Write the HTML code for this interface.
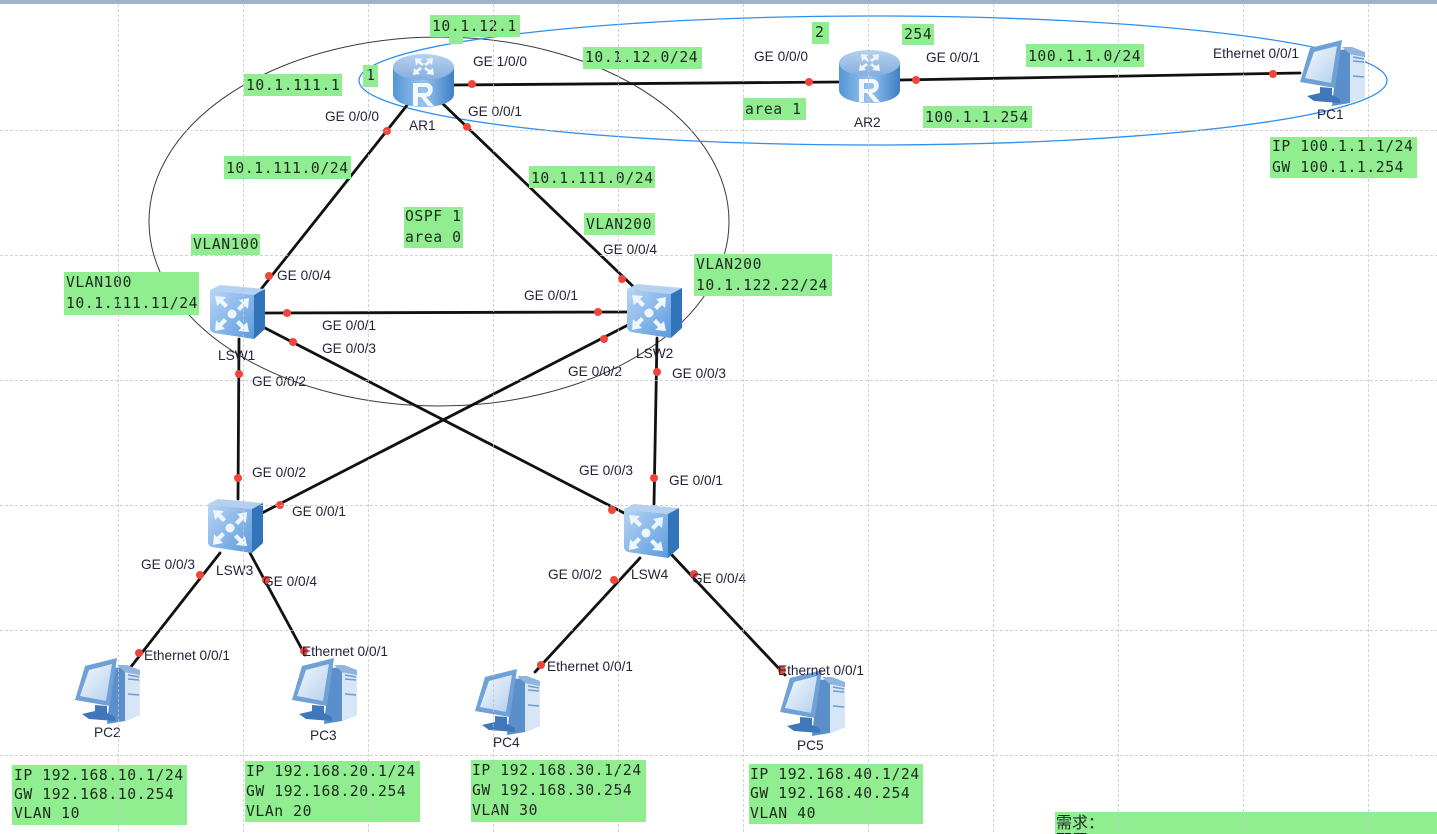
<!DOCTYPE html>
<html><head><meta charset="utf-8">
<style>
html,body{margin:0;padding:0;background:#fff;width:1437px;height:834px;overflow:hidden}
svg{display:block}
.s{font:13.7px "Liberation Sans",sans-serif;fill:#23233a}
.m{font:14.7px "DejaVu Sans Mono","Liberation Mono",monospace;fill:#1c2a1c;letter-spacing:.59px}
.g{fill:#90ee90}
.l{stroke:#111;stroke-width:2.8;fill:none;stroke-linecap:round}
</style></head><body>
<svg width="1437" height="834" viewBox="0 0 1437 834" xmlns="http://www.w3.org/2000/svg">
<defs>
<linearGradient id="rt" x1="0" x2="0" y1="0" y2="1"><stop offset="0" stop-color="#b6d1f0"/><stop offset="1" stop-color="#86aede"/></linearGradient>
<linearGradient id="rb" x1="0" x2="1" y1="0" y2="0"><stop offset="0" stop-color="#5596d6"/><stop offset=".5" stop-color="#96c4ef"/><stop offset="1" stop-color="#3f7fc4"/></linearGradient>
<linearGradient id="sw" x1="0" x2="1" y1="0" y2="1"><stop offset="0" stop-color="#b6d5f5"/><stop offset="1" stop-color="#5c9ade"/></linearGradient>
<linearGradient id="sc" x1="0" x2="1" y1="0" y2="1"><stop offset="0" stop-color="#f4f9fe"/><stop offset="1" stop-color="#b4d0ec"/></linearGradient>
<g id="router">
<path d="M0 13V40C0 48 14 53 30.500 53S61 48 61 40V13Z" fill="url(#rb)"/>
<ellipse cx="30.500" cy="13" rx="30.500" ry="13" fill="url(#rt)"/>
<path d="M22 4l8 1-3 2 4 3-2 2-4-3-2 3zM40 4l-1 7-2-2-4 3-2-2 4-3-2-2zM20 21l1-7 2 2 4-3 2 2-4 3 2 2zM41 21l-8-1 2-2-4-3 2-2 4 3 3-2z" fill="#eef5fd"/>
<path d="M20 52V29h13c9 0 9 13 0 14l8 9h-6l-7-9h-3v9zM25 33v6h7c4 0 4-6 0-6z" fill="#f3f8fe"/>
</g>
<g id="switch">
<path d="M0 5L44 10V54L4 48Q1 47 0 44Z" fill="url(#sw)"/>
<path d="M0 5L10 0L55 4L44 10Z" fill="#b4d1f1"/>
<path d="M44 10L55 4V44L44 54Z" fill="#3274ba"/>
<circle cx="22" cy="29" r="4.500" fill="#eef6fd"/>
<path d="M5 11l11 1-3 3 5 5-3 3-5-5-3 3zM39 13l-1 11-3-3-5 5-3-3 5-5-3-3zM5 46l1-11 3 3 5-5 3 3-5 5 3 3zM39 47l-11-1 3-3-5-5 3-3 5 5 3-3z" fill="#eef6fd"/>
</g>
<g id="pc">
<path d="M38 10L52 9L65 14V57L50 63L32 66Z" fill="#5b8fca"/>
<path d="M50 14L65 17V57L50 63Z" fill="#d6e6f6"/>
<path d="M42 7L52 7L65 12V17L50 14Z" fill="#8fb4de"/>
<path d="M53 17L64 19M53 21L64 22M53 36L64 37" stroke="#6f9bcf" stroke-width="1.500"/>
<path d="M10 8L42 0L35 48L0 42Z" fill="#6fa0d6"/>
<path d="M14 12L37 6L31 43L5 38Z" fill="url(#sc)"/>
<path d="M20 47L32 48V55L40 59V63L14 61L7 56L20 53Z" fill="#3f77ba"/>
</g>
</defs>
<rect width="1437" height="834" fill="#fff"/>
<rect width="1437" height="4" fill="#9db4cb"/>

<ellipse cx="439" cy="221.500" rx="290" ry="184.500" fill="none" stroke="#3a3a3a" stroke-width="1"/>
<ellipse cx="873" cy="80.500" rx="514" ry="64.500" fill="none" stroke="#2f8fee" stroke-width="1.300"/>

<g class="l">
<path d="M454 85L838 82"/><path d="M900 80L1300 73"/>
<path d="M408 104L258 293"/><path d="M443 104L640 293"/>
<path d="M265 313L627 312"/><path d="M265 328L624 513"/><path d="M628 325L262 513"/>
<path d="M239 339L238 499"/><path d="M657 338L654 504"/>
<path d="M220 553L130 668"/><path d="M250 553L305 655"/>
<path d="M640 558L535 672"/><path d="M670 553L785 675"/>
</g>

<use href="#router" x="393" y="54"/><use href="#router" x="839" y="50"/>
<use href="#switch" x="210" y="285"/><use href="#switch" x="627" y="284"/>
<use href="#switch" x="208" y="499"/><use href="#switch" x="624" y="504"/>
<use href="#pc" x="1300" y="40"/><use href="#pc" x="75" y="658"/><use href="#pc" x="292" y="658"/><use href="#pc" x="475" y="669"/><use href="#pc" x="780" y="670"/>

<g fill="#f2453a">
<circle cx="472" cy="84" r="4"/><circle cx="809" cy="82" r="4"/><circle cx="916" cy="80" r="4"/><circle cx="1273" cy="74" r="4"/>
<circle cx="387" cy="131" r="4"/><circle cx="467" cy="127" r="4"/><circle cx="269" cy="276" r="4"/><circle cx="622" cy="279" r="4"/>
<circle cx="287" cy="313" r="4"/><circle cx="598" cy="312" r="4"/><circle cx="293" cy="342" r="4"/><circle cx="604" cy="339" r="4"/>
<circle cx="239" cy="374" r="4"/><circle cx="657" cy="372" r="4"/><circle cx="238" cy="478" r="4"/><circle cx="654" cy="478" r="4"/>
<circle cx="280" cy="505" r="4"/><circle cx="612" cy="510" r="4"/><circle cx="200" cy="575" r="4"/><circle cx="266" cy="580" r="4"/>
<circle cx="139" cy="653" r="4"/><circle cx="304" cy="651" r="4"/><circle cx="541" cy="665" r="4"/><circle cx="614" cy="580" r="4"/>
<circle cx="694" cy="574" r="4"/><circle cx="782" cy="670" r="4"/>
</g>

<g class="g">
<rect x="430" y="15" width="90" height="22"/><rect x="449" y="37" width="14" height="7"/>
<rect x="583" y="47" width="119" height="22"/><rect x="363" y="65" width="15" height="22"/>
<rect x="812" y="22" width="17" height="22"/><rect x="902" y="24" width="32" height="21"/>
<rect x="1026" y="44" width="118" height="23"/><rect x="743" y="98" width="63" height="22"/>
<rect x="923" y="106" width="109" height="22"/><rect x="244" y="74" width="98" height="22"/>
<rect x="224" y="156" width="127" height="23"/><rect x="529" y="166" width="126" height="22"/>
<rect x="404" y="207" width="59" height="41"/><rect x="584" y="213" width="71" height="22"/>
<rect x="191" y="234" width="69" height="21"/><rect x="64" y="272" width="135" height="43"/>
<rect x="694" y="254" width="138" height="42"/><rect x="1270" y="137" width="147" height="41"/>
<rect x="12" y="765" width="175" height="60"/><rect x="245" y="761" width="175" height="61"/>
<rect x="471" y="760" width="175" height="62"/><rect x="749" y="764" width="174" height="60"/>
<rect x="1055" y="812" width="382" height="22"/>
</g>

<g class="m">
<text x="432" y="31">10.1.12.1</text>
<text x="585" y="62">10.1.12.0/24</text>
<text x="366" y="80">1</text>
<text x="815" y="37">2</text>
<text x="904" y="39">254</text>
<text x="1028" y="61">100.1.1.0/24</text>
<text x="745" y="114">area 1</text>
<text x="925" y="122">100.1.1.254</text>
<text x="246" y="90">10.1.111.1</text>
<text x="226" y="173">10.1.111.0/24</text>
<text x="531" y="183">10.1.111.0/24</text>
<text x="405" y="221">OSPF 1</text>
<text x="405" y="242">area 0</text>
<text x="586" y="229">VLAN200</text>
<text x="193" y="249">VLAN100</text>
<text x="66" y="287">VLAN100</text>
<text x="66" y="308">10.1.111.11/24</text>
<text x="696" y="269">VLAN200</text>
<text x="696" y="290">10.1.122.22/24</text>
<text x="1272" y="151">IP 100.1.1.1/24</text>
<text x="1272" y="172">GW 100.1.1.254</text>
<text x="14" y="780">IP 192.168.10.1/24</text>
<text x="14" y="799">GW 192.168.10.254</text>
<text x="14" y="818">VLAN 10</text>
<text x="246" y="776">IP 192.168.20.1/24</text>
<text x="246" y="796">GW 192.168.20.254</text>
<text x="246" y="816">VLAn 20</text>
<text x="472" y="775">IP 192.168.30.1/24</text>
<text x="472" y="795">GW 192.168.30.254</text>
<text x="472" y="815">VLAN 30</text>
<text x="750" y="779">IP 192.168.40.1/24</text>
<text x="750" y="798">GW 192.168.40.254</text>
<text x="750" y="818">VLAN 40</text>
</g>
<text x="1056" y="828" style='font:16px "Noto Sans CJK SC","Liberation Sans",sans-serif;fill:#1c2a1c'>需求：</text>
<text x="1056" y="846" style='font:16px "Noto Sans CJK SC","Liberation Sans",sans-serif;fill:#1c2a1c'>配置</text>

<g class="s">
<text x="473" y="66">GE 1/0/0</text><text x="468" y="116">GE 0/0/1</text><text x="325" y="121">GE 0/0/0</text><text x="409" y="130">AR1</text>
<text x="754" y="61">GE 0/0/0</text><text x="926" y="62">GE 0/0/1</text><text x="1213" y="58">Ethernet 0/0/1</text><text x="854" y="127">AR2</text><text x="1317" y="119">PC1</text>
<text x="277" y="280">GE 0/0/4</text><text x="603" y="254">GE 0/0/4</text><text x="524" y="300">GE 0/0/1</text><text x="322" y="330">GE 0/0/1</text><text x="322" y="353">GE 0/0/3</text>
<text x="218" y="360">LSW1</text><text x="636" y="358">LSW2</text><text x="252" y="386">GE 0/0/2</text><text x="568" y="376">GE 0/0/2</text><text x="672" y="378">GE 0/0/3</text>
<text x="252" y="477">GE 0/0/2</text><text x="579" y="475">GE 0/0/3</text><text x="669" y="485">GE 0/0/1</text><text x="292" y="516">GE 0/0/1</text>
<text x="216" y="575">LSW3</text><text x="631" y="579">LSW4</text><text x="141" y="569">GE 0/0/3</text><text x="263" y="586">GE 0/0/4</text><text x="548" y="579">GE 0/0/2</text><text x="692" y="583">GE 0/0/4</text>
<text x="144" y="660">Ethernet 0/0/1</text><text x="302" y="656">Ethernet 0/0/1</text><text x="547" y="671">Ethernet 0/0/1</text><text x="778" y="675">Ethernet 0/0/1</text>
<text x="94" y="737">PC2</text><text x="310" y="740">PC3</text><text x="493" y="747">PC4</text><text x="797" y="750">PC5</text>
</g>

<g stroke="#c4c4c4" stroke-width="1" stroke-dasharray="3 2" fill="none" opacity=".75">
<path d="M118.500 4V834M243.500 4V834M368.500 4V834M493.500 4V834M618.500 4V834M743.500 4V834M868.500 4V834M993.500 4V834M1118.500 4V834M1243.500 4V834M1368.500 4V834"/>
<path d="M0 130.500H1437M0 255.500H1437M0 380.500H1437M0 505.500H1437M0 630.500H1437M0 755.500H1437"/>
</g>
</svg>
</body></html>
